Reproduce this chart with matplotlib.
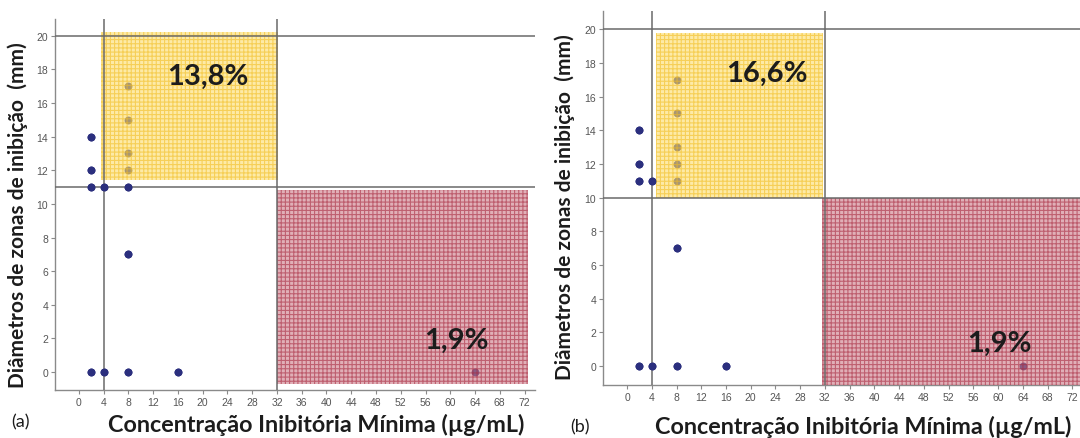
import matplotlib
matplotlib.use("Agg")
import matplotlib.pyplot as plt
from matplotlib.patches import Rectangle
import numpy as np

# ---- data ----
mic_a  = [2, 2, 2, 4, 8, 8, 2, 4, 8, 16, 8, 8, 8, 8, 64]
zona_a = [14, 12, 11, 11, 11, 7, 0, 0, 0, 0, 17, 15, 13, 12, 0]
mic_b  = [2, 2, 2, 4, 8, 2, 4, 8, 16, 8, 8, 8, 8, 8, 64]
zona_b = [14, 12, 11, 11, 7, 0, 0, 0, 0, 17, 15, 13, 12, 11, 0]

# reference lines (breakpoints)
vlin_a, hlin_a = [4, 32], [11, 20]
vlin_b, hlin_b = [4, 32], [10, 20]

# shaded zones: (x0, y0, x1, y1)
amarelo_a  = (3.6, 11.4, 32.1, 20.2)
vermelho_a = (32.0, -0.7, 72.5, 10.85)
amarelo_b  = (4.6, 10.0, 31.7, 19.8)
vermelho_b = (31.6, -1.1, 74.0, 10.0)

pct_a = ["13,8%", "1,9%"]
pct_b = ["16,6%", "1,9%"]

xticks = list(range(0, 73, 4))
yticks = list(range(0, 21, 2))

AZUL = "#2b2f7e"
LINHA = "#6a6a6a"
AMAR_F, AMAR_H = "#fcdc6c", "#f2bd22"
VERM_F, VERM_H = "#cc7a88", "#a82a40"

plt.rcParams["hatch.linewidth"] = 0.8
TITF = "Lato"


def painel(ax, mic, zona, vlin, hlin, amar, verm, pct, pos_pct, xlim, ylim):
    mic = np.array(mic); zona = np.array(zona)
    ax.set_xlim(*xlim); ax.set_ylim(*ylim)
    for sp in ["top", "right"]:
        ax.spines[sp].set_visible(False)
    for sp in ["left", "bottom"]:
        ax.spines[sp].set_color("#8a8a8a"); ax.spines[sp].set_linewidth(1.0)
    ax.set_xticks(xticks); ax.set_yticks(yticks)
    ax.tick_params(length=3, width=0.8, color="#8a8a8a", labelsize=7.5,
                   labelcolor="#555555", pad=2)
    for lab in ax.get_xticklabels() + ax.get_yticklabels():
        lab.set_family("Liberation Sans")

    dentro = np.zeros(len(mic), bool)
    for (x0, y0, x1, y1), fc, hc in [(amar, AMAR_F, AMAR_H), (verm, VERM_F, VERM_H)]:
        ax.add_patch(Rectangle((x0, y0), x1 - x0, y1 - y0, facecolor=fc, edgecolor=hc,
                               hatch="++++", linewidth=0, alpha=0.6, zorder=3))
        dentro |= (mic >= x0) & (mic <= x1) & (zona >= y0) & (zona <= y1)

    ax.scatter(mic, zona, s=32, color=AZUL, zorder=2, linewidths=0)
    for v in vlin:
        ax.axvline(v, color=LINHA, lw=1.1, zorder=4)
    for h in hlin:
        ax.axhline(h, color=LINHA, lw=1.1, zorder=4)
    ax.scatter(mic[~dentro], zona[~dentro], s=32, color=AZUL, zorder=5, linewidths=0)

    for t, (x, y) in zip(pct, pos_pct):
        ax.text(x, y, t, ha="center", va="center", fontsize=21, fontweight="bold",
                family=TITF, color="#1c1c1c", zorder=6)


fig = plt.figure(figsize=(10.8, 4.39), dpi=100)
ax1 = fig.add_axes([0.0509, 0.1093, 0.4445, 0.8451])
ax2 = fig.add_axes([0.5583, 0.1214, 0.4417, 0.8519])

painel(ax1, mic_a, zona_a, vlin_a, hlin_a, amarelo_a, vermelho_a, pct_a,
       [(20.8, 17.6), (61.0, 1.9)], (-3.88, 73.7), (-1.07, 21.0))
painel(ax2, mic_b, zona_b, vlin_b, hlin_b, amarelo_b, vermelho_b, pct_b,
       [(22.6, 17.4), (60.2, 1.4)], (-3.9, 73.25), (-1.1, 21.1))

ylab = "Diâmetros de zonas de inibição  (mm)"
xlab = "Concentração Inibitória Mínima (µg/mL)"
fig.text(18 / 1080, 1 - 215 / 439, ylab, rotation=90, ha="center", va="center",
         fontsize=15, fontweight="bold", family=TITF, color="#1c1c1c")
fig.text(565 / 1080, 1 - 207 / 439, ylab, rotation=90, ha="center", va="center",
         fontsize=15, fontweight="bold", family=TITF, color="#1c1c1c")
fig.text(316 / 1080, 1 - 425 / 439, xlab, ha="center", va="center",
         fontsize=16.8, fontweight="bold", family=TITF, color="#1c1c1c")
fig.text(863 / 1080, 1 - 427 / 439, xlab, ha="center", va="center",
         fontsize=16.8, fontweight="bold", family=TITF, color="#1c1c1c")
fig.text(20 / 1080, 1 - 422 / 439, "(a)", ha="center", va="center", fontsize=13,
         family=TITF, color="#1c1c1c")
fig.text(580 / 1080, 1 - 427 / 439, "(b)", ha="center", va="center", fontsize=13,
         family=TITF, color="#1c1c1c")

fig.savefig("out.png", dpi=100, facecolor="white")
